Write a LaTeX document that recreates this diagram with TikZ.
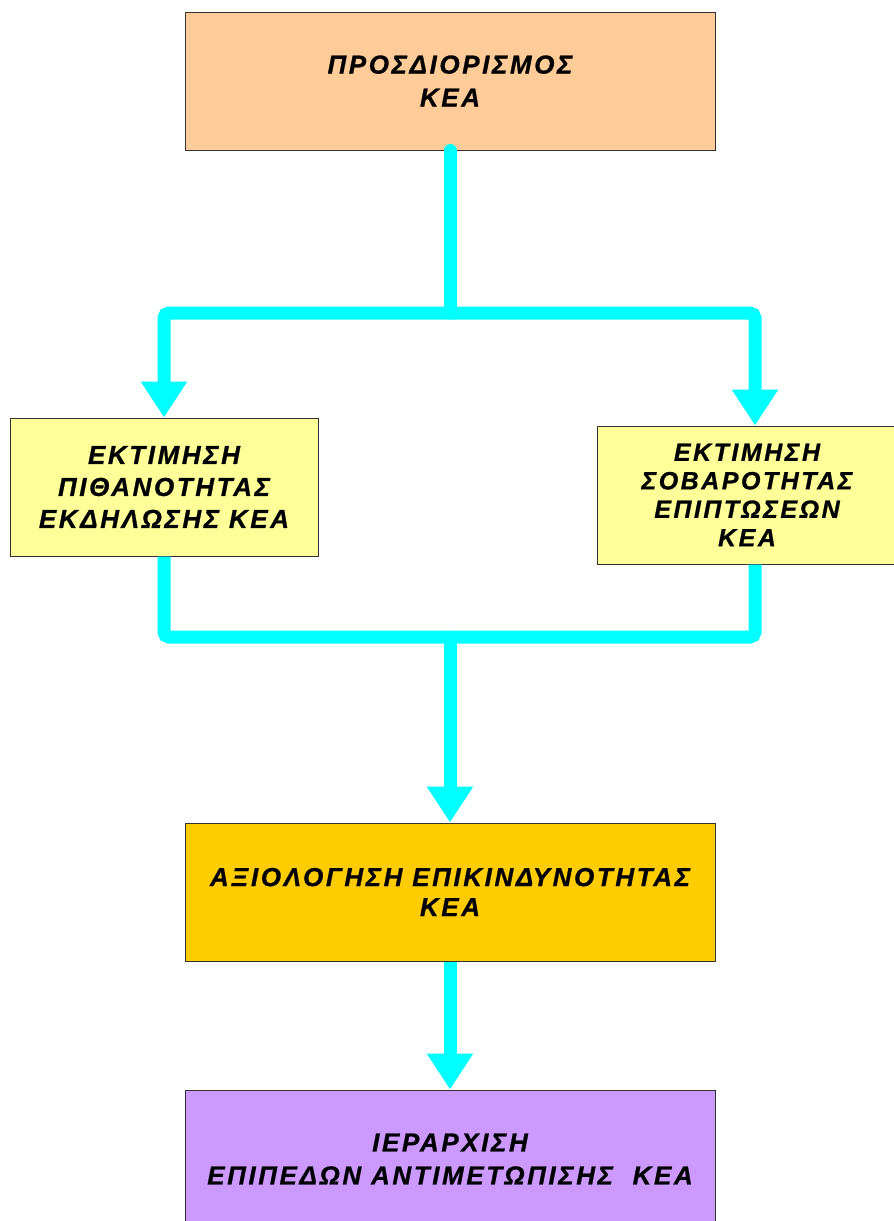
\documentclass[tikz,border=0pt]{standalone}
\usepackage{fontspec}
\setmainfont{Liberation Sans}
\newfontfamily\boxfont{Liberation Sans}[LetterSpace=10, FakeBold=0.8,
  UprightFont=*-Bold Italic, BoldFont=*-Bold Italic, ItalicFont=*-Bold Italic,
  BoldItalicFont=*-Bold Italic]
\usetikzlibrary{arrows.meta}

\definecolor{peach}{HTML}{FFCC99}
\definecolor{paleyellow}{HTML}{FFFF99}
\definecolor{amber}{HTML}{FFCC00}
\definecolor{lilac}{HTML}{CC99FF}
\definecolor{flowcyan}{HTML}{00FFFF}
\definecolor{edge}{HTML}{333333}

\tikzset{
  stage/.style={draw=edge, line width=1pt, rectangle, align=center,
    inner sep=0pt, font=\boxfont\fontsize{26}{32}\selectfont},
  flow/.style={draw=flowcyan, line width=13pt, rounded corners=5pt},
  flowarrow/.style={flow, -{Triangle[length=36pt,width=44pt]}},
}

\begin{document}
\begin{tikzpicture}[x=1pt,y=-1pt]
  \useasboundingbox (0,0) rectangle (894,1221);
  \fill[white] (0,0) rectangle (894,1221);

  % process stages
  \node[stage, fill=peach, minimum width=530pt, minimum height=138pt,
        font=\boxfont\fontsize{26}{33}\selectfont]
    (define) at (450,81) {ΠΡΟΣΔΙΟΡΙΣΜΟΣ\\ΚΕΑ};
  \node[stage, fill=paleyellow, minimum width=308pt, minimum height=138pt]
    (likelihood) at (164,487) {ΕΚΤΙΜΗΣΗ\\ΠΙΘΑΝΟΤΗΤΑΣ\\ΕΚΔΗΛΩΣΗΣ ΚΕΑ};
  \node[stage, fill=paleyellow, minimum width=300pt, minimum height=138pt,
        font=\boxfont\fontsize{25}{28.5}\selectfont]
    (severity) at (747,495) {ΕΚΤΙΜΗΣΗ\\ΣΟΒΑΡΟΤΗΤΑΣ\\ΕΠΙΠΤΩΣΕΩΝ\\ΚΕΑ};
  \node[stage, fill=amber, minimum width=530pt, minimum height=138pt,
        font=\boxfont\fontsize{26}{30}\selectfont]
    (assess) at (450,892) {ΑΞΙΟΛΟΓΗΣΗ ΕΠΙΚΙΝΔΥΝΟΤΗΤΑΣ\\ΚΕΑ};
  \node[stage, fill=lilac, minimum width=530pt, minimum height=138pt,
        font=\boxfont\fontsize{26}{33}\selectfont]
    (rank) at (450,1159) {ΙΕΡΑΡΧΙΣΗ\\ΕΠΙΠΕΔΩΝ ΑΝΤΙΜΕΤΩΠΙΣΗΣ\ \ ΚΕΑ};

  % branch and merge points
  \coordinate (split) at (450,313);
  \coordinate (merge) at (450,637);
  \coordinate (sevin) at (755,425.5);
  \coordinate (sevout) at (755,564.5);

  % connectors
  \draw[flow, line cap=round] (define.south) -- (split);
  \draw[flowarrow] (split) -| (likelihood.north);
  \draw[flowarrow] (split) -| (sevin);
  \draw[flow] (likelihood.south) |- (merge);
  \draw[flow] (sevout) |- (merge);
  \draw[flowarrow] (merge) -- (assess.north);
  \draw[flowarrow] (assess.south) -- (rank.north);
\end{tikzpicture}
\end{document}
